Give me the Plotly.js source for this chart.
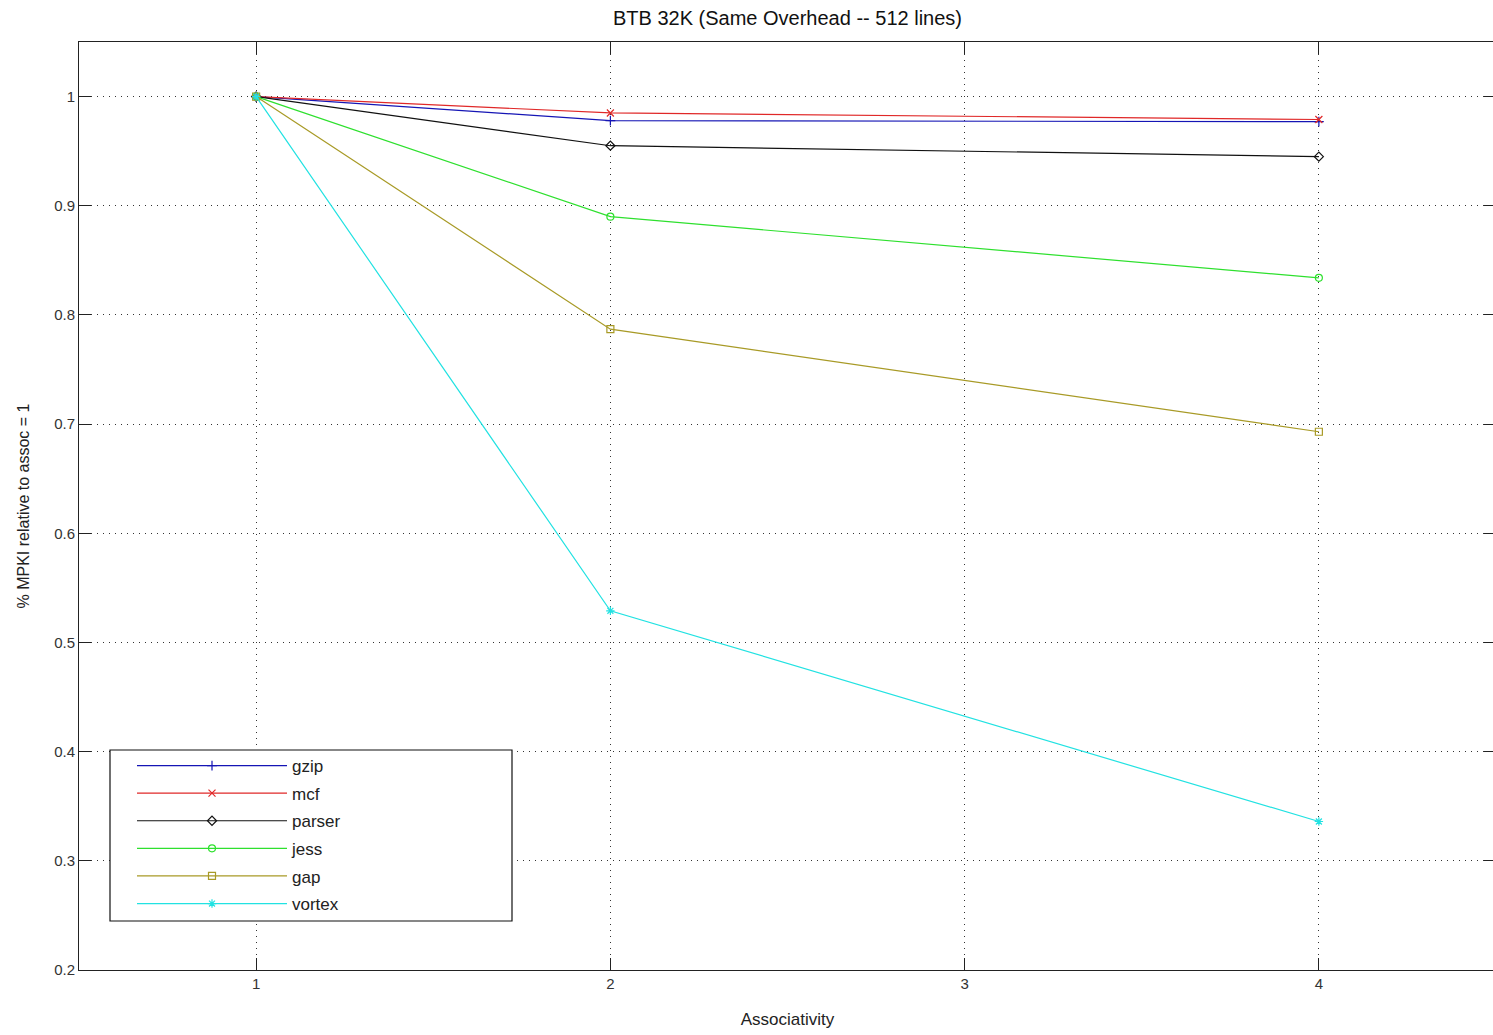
<!DOCTYPE html>
<html>
<head>
<meta charset="utf-8">
<script src="https://cdn.plot.ly/plotly-3.0.1.min.js"></script>
<style>
html,body{margin:0;padding:0;overflow:hidden;background:#fff;}
#chart{width:1497px;height:1035px;}
</style>
</head>
<body>
<div id="chart"></div>
<script>
const assoc = [1, 2, 4];
const seriesNames = ['gzip', 'mcf', 'parser', 'jess', 'gap', 'vortex'];
const gzip   = [1, 0.978, 0.977];
const mcf    = [1, 0.985, 0.979];
const parser = [1, 0.955, 0.945];
const jess   = [1, 0.890, 0.834];
const gap    = [1, 0.787, 0.693];
const vortex = [1, 0.529, 0.336];
const xTicks = [1, 2, 3, 4];
const yTicks = [0.2, 0.3, 0.4, 0.5, 0.6, 0.7, 0.8, 0.9, 1];
const yTickLabels = ['0.2', '0.3', '0.4', '0.5', '0.6', '0.7', '0.8', '0.9', '1'];

const values = [gzip, mcf, parser, jess, gap, vortex];
const colors = ['#1515b5', '#e02828', '#111111', '#2ee02e', '#a89a26', '#22e2e2'];
const symbols = ['cross-thin-open', 'x-thin-open', 'diamond-open', 'circle-open', 'square-open', 'asterisk-open'];

const traces = seriesNames.map((n, i) => ({
  x: assoc, y: values[i], name: n, type: 'scatter', mode: 'lines+markers',
  legendgroup: n,
  line: {color: colors[i], width: 1.2},
  marker: {symbol: symbols[i], size: 7, color: colors[i], line: {color: colors[i], width: 1.2}}
}));

const FONT = 'Liberation Sans, Arial, sans-serif';
const layout = {
  width: 1497, height: 1035,
  margin: {l: 79, r: 1, t: 42, b: 65},
  paper_bgcolor: '#fff', plot_bgcolor: '#fff',
  font: {family: FONT, color: '#222', size: 15},
  title: {text: 'BTB 32K (Same Overhead -- 512 lines)', font: {family: FONT, size: 20, color: '#111'},
          x: 0.5, xref: 'paper', y: 1 - 18/1035, yanchor: 'middle'},
  xaxis: {
    range: [0.5, 4.5], tickvals: xTicks, ticktext: xTicks.map(String),
    showline: true, linecolor: '#222', linewidth: 1, mirror: 'ticks',
    ticks: 'inside', ticklen: 12, tickcolor: '#222', tickfont: {size: 15, color: '#333'},
    showgrid: true, gridcolor: '#333', gridwidth: 1, griddash: '1px,5px', zeroline: false,
    title: {text: 'Associativity', font: {size: 17, color: '#222'}, standoff: 22}
  },
  yaxis: {
    range: [0.2, 1.05], tickvals: yTicks, ticktext: yTickLabels,
    showline: true, linecolor: '#222', linewidth: 1, mirror: 'ticks',
    ticks: 'inside', ticklen: 12, tickcolor: '#222', tickfont: {size: 15, color: '#333'},
    showgrid: true, gridcolor: '#333', gridwidth: 1, griddash: '1px,5px', zeroline: false,
    title: {text: '% MPKI relative to assoc = 1', font: {size: 16, color: '#222'}, standoff: 20}
  },
  showlegend: true,
  legend: {
    x: (132-79)/1417, y: (970-748)/928, xanchor: 'left', yanchor: 'top',
    bgcolor: 'rgba(0,0,0,0)', borderwidth: 0,
    font: {family: FONT, size: 17, color: '#222'},
    itemwidth: 150, tracegroupgap: 2.5, traceorder: 'grouped'
  },
  shapes: [{
    type: 'rect', xref: 'paper', yref: 'paper',
    x0: (110-79)/1417, x1: (512-79)/1417, y0: (970-921)/928, y1: (970-750)/928,
    line: {color: '#111', width: 1.2}, fillcolor: '#fff', layer: 'above'
  }]
};

Plotly.newPlot('chart', traces, layout, {displayModeBar: false, staticPlot: true});
</script>
</body>
</html>
